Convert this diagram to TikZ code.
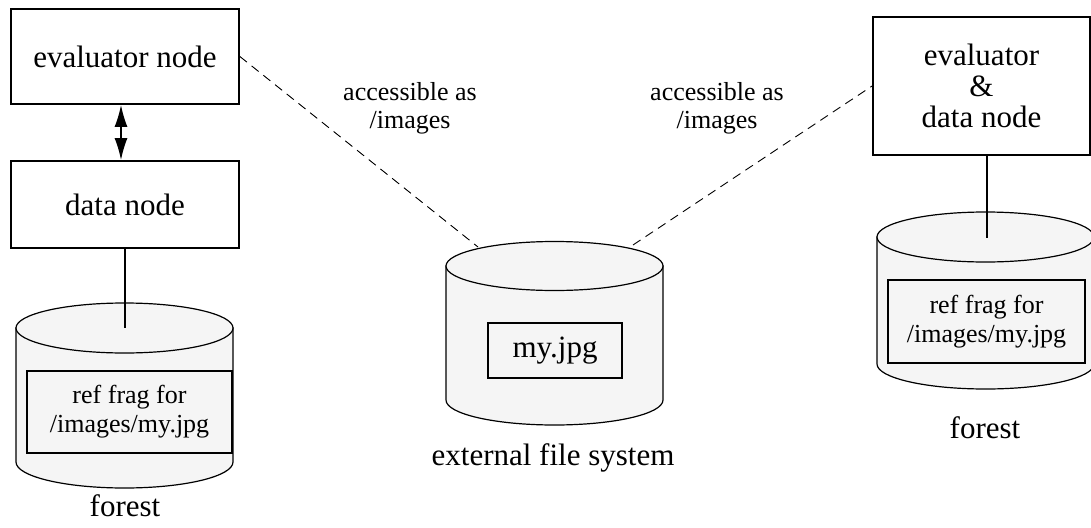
\documentclass[tikz,border=0pt]{standalone}
\usepackage{fontspec}
\setmainfont{Liberation Serif}
\usetikzlibrary{arrows.meta}
\definecolor{cylfill}{RGB}{245,245,245}
\begin{document}
\begin{tikzpicture}[x=1pt,y=-1pt,
  bigbox/.style={draw,line width=1.8pt,inner sep=0pt,align=center,font=\fontsize{31}{31}\selectfont},
  innerbox/.style={draw,line width=1.6pt,inner sep=0pt,align=center,fill=cylfill,font=\fontsize{26}{29}\selectfont},
  lbl/.style={align=center,inner sep=0pt,font=\fontsize{26}{28}\selectfont},
  biglbl/.style={inner sep=0pt,font=\fontsize{31}{31}\selectfont},
  cyl/.style={line width=1.2pt,fill=cylfill},
  dashline/.style={dash pattern=on 9pt off 6pt,line width=0.9pt},
  solidline/.style={line width=1.6pt}]
\useasboundingbox[fill=white] (0,0) rectangle (1091,527);

% boxes
\node[bigbox,minimum width=228pt,minimum height=95pt] (ev) at (125,56.5) {evaluator node};
\node[bigbox,minimum width=228pt,minimum height=87pt] (dn) at (125,204.5) {data node};
\node[bigbox,minimum width=217pt,minimum height=138pt] (edn) at (981.5,86) {evaluator\\\&\\data node};

% left cylinder
\filldraw[cyl] (16,328) -- (16,462) arc[start angle=180,end angle=0,x radius=108.5,y radius=26] -- (233,328) -- cycle;
\filldraw[cyl] (124.5,328) ellipse[x radius=108.5,y radius=25];
\coordinate (lcyl) at (125,328);
% middle cylinder
\filldraw[cyl] (446,266) -- (446,400) arc[start angle=180,end angle=0,x radius=108.5,y radius=25] -- (663,266) -- cycle;
\filldraw[cyl] (554.5,266) ellipse[x radius=108.5,y radius=24.5];
\coordinate (mcylL) at (478,247);
\coordinate (mcylR) at (633,245);
% right cylinder
\filldraw[cyl] (877,237) -- (877,364) arc[start angle=180,end angle=0,x radius=108.5,y radius=25] -- (1094,237) -- cycle;
\filldraw[cyl] (985.5,237) ellipse[x radius=108.5,y radius=25];
\coordinate (rcyl) at (987,238);

% inner boxes
\node[innerbox,minimum width=205pt,minimum height=82pt] (lfrag) at (129.5,412) {ref frag for\\/images/my.jpg};
\node[innerbox,minimum width=134pt,minimum height=55pt,font=\fontsize{31}{31}\selectfont] (jpg) at (555,350.5) {my.jpg};
\node[innerbox,minimum width=197pt,minimum height=83pt] (rfrag) at (986.5,321.5) {ref frag for\\/images/my.jpg};

% labels
\node[biglbl] (lforest) at (125,506) {forest};
\node[biglbl] (rforest) at (985,428) {forest};
\node[biglbl] (efs) at (553,458) {external file system};
\node[lbl] (acc1) at (410,108) {accessible as\\/images};
\node[lbl] (acc2) at (717,108) {accessible as\\/images};

% connectors
\draw[solidline,{Latex[length=22pt,width=13pt]}-{Latex[length=22pt,width=13pt]}] ([xshift=-4pt]ev.south) -- ([xshift=-4pt]dn.north);
\draw[solidline] (dn.south) -- (lcyl);
\draw[solidline] ([xshift=5.5pt]edn.south) -- (rcyl);
\draw[dashline] (ev.east) -- (mcylL);
\draw[dashline] (mcylR) -- (edn.west);
\end{tikzpicture}
\end{document}
